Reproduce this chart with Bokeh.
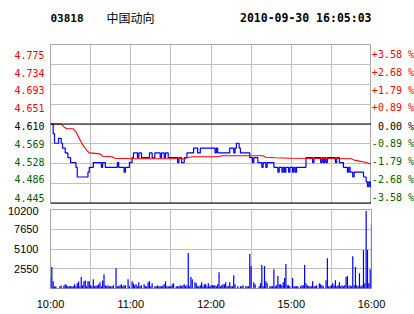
from bokeh.plotting import figure
from bokeh.models import Range1d, FixedTicker, Span, Grid
from bokeh.layouts import column, row
from bokeh.embed import file_html
from bokeh.resources import INLINE
from bokeh.core.properties import value

# ---------------- data ----------------
stock_code = "03818"
stock_name = "中国动向"
timestamp = "2010-09-30 16:05:03"
prev_close = 4.610

pct_levels = [-3.58, -2.68, -1.79, -0.89, 0.00, 0.89, 1.79, 2.68, 3.58]
price_labels = ["4.445", "4.486", "4.528", "4.569", "4.610", "4.651", "4.693", "4.734", "4.775"]
pct_labels = ["-3.58 %", "-2.68 %", "-1.79 %", "-0.89 %", "0.00 %",
              "+0.89 %", "+1.79 %", "+2.68 %", "+3.58 %"]

time_ticks = [0, 60, 120, 180, 240]
time_labels = ["10:00", "11:00", "12:00", "15:00", "16:00"]
half_hour_ticks = [30, 60, 90, 120, 150, 180, 210]

vol_ticks = [2550, 5100, 7650, 10200]
vol_labels = ["2550", "5100", "7650", "10200"]

# last price: trading minute at which the price changed, and the new price
price_minutes = [0, 2, 3, 6, 8, 9, 11, 13, 15, 19, 20, 28, 29, 32, 38, 39, 41, 50, 51, 55,
                 56, 59, 61, 62, 65, 66, 68, 74, 76, 78, 82, 83, 85, 86, 88, 95, 96, 98, 100, 102,
                 107, 110, 112, 123, 124, 125, 134, 137, 138, 139, 141, 142, 149, 151, 152, 155, 158, 159, 161, 162,
                 167, 170, 171, 173, 174, 175, 176, 178, 179, 181, 182, 183, 184, 191, 196, 197, 202, 203, 204, 205,
                 206, 207, 213, 214, 216, 219, 222, 223, 224, 226, 227, 234, 236, 237, 238, 239, 240]
price_values = [4.61, 4.59, 4.57, 4.58, 4.57, 4.56, 4.55, 4.54, 4.53, 4.52, 4.50, 4.51, 4.52, 4.53, 4.52, 4.53, 4.52, 4.53, 4.52, 4.51,
                4.52, 4.53, 4.54, 4.55, 4.54, 4.55, 4.54, 4.55, 4.54, 4.55, 4.54, 4.55, 4.54, 4.55, 4.54, 4.53, 4.54, 4.53, 4.54, 4.55,
                4.56, 4.55, 4.56, 4.55, 4.56, 4.55, 4.56, 4.55, 4.56, 4.57, 4.56, 4.55, 4.54, 4.53, 4.54, 4.53, 4.52, 4.53, 4.52, 4.53,
                4.52, 4.51, 4.52, 4.51, 4.52, 4.51, 4.52, 4.51, 4.52, 4.51, 4.52, 4.51, 4.52, 4.54, 4.53, 4.54, 4.53, 4.54, 4.53, 4.54,
                4.53, 4.54, 4.53, 4.54, 4.53, 4.52, 4.51, 4.52, 4.51, 4.50, 4.51, 4.50, 4.49, 4.48, 4.49, 4.48, 4.49]

# average price line
avg_minutes = [0, 8, 10, 12, 17, 19, 21, 23, 25, 27, 29, 37, 39, 46, 48, 60, 100, 102, 106, 125,
               128, 159, 161, 168, 180, 225, 227, 231, 234, 237, 240]
avg_values = [4.610, 4.610, 4.604, 4.600, 4.600, 4.594, 4.583, 4.572, 4.563, 4.556, 4.550, 4.548, 4.543, 4.542, 4.539, 4.538,
              4.538, 4.540, 4.542, 4.542, 4.544, 4.544, 4.541, 4.540, 4.539, 4.538, 4.535, 4.533, 4.531, 4.529, 4.527]

# volume per trading minute (0 = 10:00 ... 240 = 16:00)
volumes = [
    1290, 2760, 950, 260, 300, 0, 0, 300, 390, 0,
    390, 560, 430, 300, 300, 300, 300, 300, 560, 300,
    690, 905, 300, 1470, 430, 950, 1030, 300, 950, 950,
    430, 300, 1200, 300, 390, 390, 560, 820, 300, 1030,
    1850, 430, 300, 430, 300, 300, 300, 430, 0, 2630,
    300, 300, 430, 560, 300, 430, 430, 0, 1200, 300,
    0, 950, 690, 430, 560, 300, 820, 300, 430, 0,
    560, 300, 300, 820, 950, 300, 690, 0, 300, 300,
    390, 300, 300, 300, 390, 560, 950, 300, 300, 300,
    300, 560, 690, 0, 300, 300, 300, 430, 300, 430,
    560, 300, 430, 4570, 300, 1470, 1200, 0, 820, 690,
    300, 300, 430, 820, 300, 560, 560, 300, 690, 300,
    430, 430, 430, 430, 300, 560, 2110, 300, 430, 560,
    560, 820, 300, 300, 820, 300, 300, 1720, 560, 0,
    300, 0, 300, 300, 430, 0, 300, 300, 300, 4440,
    2890, 0, 820, 560, 0, 0, 300, 690, 3020, 300,
    2890, 950, 690, 0, 300, 300, 300, 2500, 300, 430,
    1600, 560, 560, 430, 820, 1340, 3150, 430, 430, 300,
    0, 1340, 300, 300, 300, 300, 0, 300, 430, 430,
    3020, 690, 430, 300, 300, 300, 950, 300, 300, 430,
    0, 690, 560, 430, 300, 0, 1080, 3920, 300, 300,
    430, 690, 430, 1080, 300, 430, 820, 300, 430, 300,
    430, 1470, 1600, 300, 430, 300, 4180, 430, 2760, 430,
    300, 1980, 300, 430, 4960, 690, 10000, 4960, 690, 2500,
    8400,
]
minutes = list(range(len(volumes)))

# ---------------- styling ----------------
RED = "#ff0000"
GREEN = "#006000"
GRID = "#c0c0c0"
OUTLINE = "#a8a8a8"
MONO = "DejaVu Sans Mono"
SANS = "Liberation Sans"

LEFT_W, FRAME_W, RIGHT_W = 50, 321, 43
ROW_H, TOP_B, BOT_B = 170, 8, 3
FRAME_H = ROW_H - TOP_B - BOT_B
HEAD_H = 36

level_prices = [prev_close * (1 + q / 100.0) for q in pct_levels]
label_colors = [RED if q > 0 else ("black" if q == 0 else GREEN) for q in pct_levels]
y_lo, y_hi = level_prices[0], level_prices[-1]
per_px = (y_hi - y_lo) / FRAME_H
# small vertical nudges (pixels) of the side labels, as in the original
label_nudge = [3, 3, 2, 1, 0, 0, -1, -2, -3]
label_y = [yv + d * per_px for yv, d in zip(level_prices, label_nudge)]


def bare(width, height, xr, yr):
    return figure(width=width, height=height, x_range=xr, y_range=yr,
                  output_backend="svg", toolbar_location=None,
                  x_axis_type=None, y_axis_type=None)


def set_borders(f, left=0, right=0, top=0, bottom=0, outline=None):
    f.min_border = 0
    f.min_border_left = left
    f.min_border_right = right
    f.min_border_top = top
    f.min_border_bottom = bottom
    f.outline_line_color = outline


# ---------------- header (frame aligned with the chart frame) ----------------
h = bare(LEFT_W + FRAME_W + RIGHT_W, HEAD_H, Range1d(0, FRAME_W), Range1d(0, HEAD_H))
set_borders(h, left=LEFT_W, right=RIGHT_W)
h.text(x=[0], y=[HEAD_H - 17], text=[stock_code], text_font=value(MONO), text_font_style="bold",
       text_font_size="11px", text_baseline="middle", text_align="left", text_color="black")
h.text(x=[56], y=[HEAD_H - 16.5], text=[stock_name], text_font=value("Noto Sans CJK SC"),
       text_font_size="12px", text_baseline="middle", text_align="left", text_color="black")
h.text(x=[FRAME_W], y=[HEAD_H - 17], text=[timestamp], text_font=value(MONO), text_font_style="bold",
       text_font_size="11.5px", text_baseline="middle", text_align="right", text_color="black")

# ---------------- price panel ----------------
xr = Range1d(0, 240)
lab_yr = Range1d(y_lo - BOT_B * per_px, y_hi + TOP_B * per_px)

p = bare(FRAME_W, ROW_H, xr, Range1d(y_lo, y_hi))
set_borders(p, top=TOP_B, bottom=BOT_B, outline=OUTLINE)
p.add_layout(Grid(dimension=0, ticker=FixedTicker(ticks=half_hour_ticks), grid_line_color=GRID))
p.add_layout(Grid(dimension=1, ticker=FixedTicker(ticks=level_prices[1:-1]), grid_line_color=GRID))
p.add_layout(Span(location=prev_close, dimension="width", line_color="black", line_width=1))
p.add_layout(Span(location=y_lo, dimension="width", line_color="black", line_width=2))
p.step(price_minutes, price_values, mode="after", line_color="#0000ff", line_width=1.2)
p.line(avg_minutes, avg_values, line_color=RED, line_width=1.1)

left = bare(LEFT_W, ROW_H, Range1d(0, LEFT_W), lab_yr)
set_borders(left)
left.text(x=[LEFT_W - 6] * len(label_y), y=label_y, text=price_labels, text_color=label_colors,
          text_align="right", text_baseline="middle", text_font=value(MONO), text_font_size="10px")

right = bare(RIGHT_W, ROW_H, Range1d(0, RIGHT_W), lab_yr)
set_borders(right)
right.text(x=[RIGHT_W - 0.5] * len(label_y), y=label_y, text=pct_labels, text_color=label_colors,
           text_align="right", text_baseline="middle", text_font=value(MONO), text_font_size="10px")

# ---------------- volume panel ----------------
v = figure(width=414, height=106, x_range=xr, y_range=Range1d(0, 10200),
           output_backend="svg", toolbar_location=None,
           min_border_left=LEFT_W, min_border_right=RIGHT_W, min_border_top=3, min_border_bottom=24)
v.outline_line_color = OUTLINE
v.vbar(x=minutes, top=volumes, width=0.9, fill_color="#0000ff", line_color=None)

v.xaxis.ticker = FixedTicker(ticks=time_ticks)
v.xaxis.major_label_overrides = dict(zip(time_ticks, time_labels))
v.yaxis.ticker = FixedTicker(ticks=vol_ticks)
v.yaxis.major_label_overrides = dict(zip(vol_ticks, vol_labels))
v.xgrid.ticker = FixedTicker(ticks=half_hour_ticks)
v.ygrid.ticker = FixedTicker(ticks=vol_ticks[:-1])
v.xgrid.grid_line_color = GRID
v.ygrid.grid_line_color = GRID
for ax in (v.xaxis[0], v.yaxis[0]):
    ax.axis_line_color = None
    ax.major_tick_line_color = None
    ax.minor_tick_line_color = None
    ax.major_label_text_font = SANS
    ax.major_label_text_font_size = "11px"
    ax.major_label_text_color = "black"
v.xaxis.major_label_standoff = 3
v.yaxis.major_label_standoff = 6

layout = column(h, row(left, p, right, spacing=0), v, spacing=0)
open("out.html", "w").write(file_html(layout, INLINE))
